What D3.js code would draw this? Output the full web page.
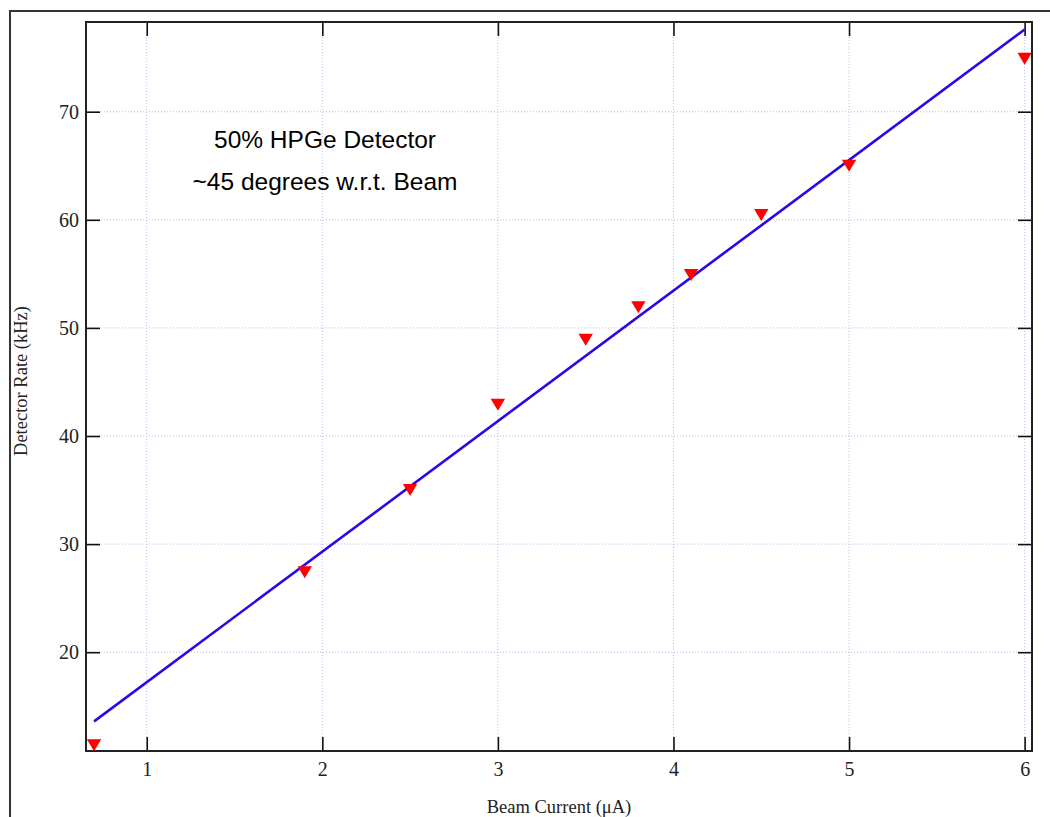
<!DOCTYPE html>
<html><head><meta charset="utf-8">
<script src="https://cdn.jsdelivr.net/npm/d3@7"></script>
<style>body{margin:0;background:#fff}svg{display:block}</style>
</head><body><svg id="c" width="1050" height="817"></svg>
<script>
const beamCurrent = [0.7, 1.9, 2.5, 3.0, 3.5, 3.8, 4.1, 4.5, 5.0, 6.0];
const detectorRate = [11.4, 27.4, 35.0, 42.9, 48.9, 51.9, 54.9, 60.45, 65.0, 74.9];
const fitX = [0.7, 6.0];
const fitY = [13.6, 77.6];
const xTicks = [1, 2, 3, 4, 5, 6];
const yTicks = [20, 30, 40, 50, 60, 70];
const annotation = ["50% HPGe Detector", "~45 degrees w.r.t. Beam"];

const svg = d3.select("#c");
const L = 86, R = 1032, T = 22, B = 751;
const x = d3.scaleLinear().domain([0.654, 6.042]).range([L, R]);
const y = d3.scaleLinear().domain([10.86, 78.3]).range([B, T]);

// outer frame
svg.append("path").attr("d", `M10,817 V11 H1050`).attr("fill","none").attr("stroke","#333").attr("stroke-width",2);

// grid
const g = svg.append("g");
g.selectAll(".gx").data(xTicks).join("line")
  .attr("x1", d=>x(d)).attr("x2", d=>x(d)).attr("y1", T).attr("y2", B)
  .attr("stroke","#b8b8f6").attr("stroke-width",1).attr("stroke-dasharray","1,2");
g.selectAll(".gy").data(yTicks).join("line")
  .attr("y1", d=>y(d)).attr("y2", d=>y(d)).attr("x1", L).attr("x2", R)
  .attr("stroke","#b8b8f6").attr("stroke-width",1).attr("stroke-dasharray","1,2");

// axes with inner ticks
const font = "'Liberation Serif', 'DejaVu Serif', serif";
const ax = svg.append("g").attr("transform",`translate(0,${B})`)
  .call(d3.axisBottom(x).tickValues(xTicks).tickSize(-14).tickPadding(11).tickFormat(d3.format("d")));
const axT = svg.append("g").attr("transform",`translate(0,${T})`)
  .call(d3.axisTop(x).tickValues(xTicks).tickSize(-14).tickFormat(""));
const ay = svg.append("g").attr("transform",`translate(${L},0)`)
  .call(d3.axisLeft(y).tickValues(yTicks).tickSize(-14).tickPadding(7).tickFormat(d3.format("d")));
const ayR = svg.append("g").attr("transform",`translate(${R},0)`)
  .call(d3.axisRight(y).tickValues(yTicks).tickSize(-14).tickFormat(""));
[ax, axT, ay, ayR].forEach(a => {
  a.attr("font-family", font).attr("font-size", 20);
  a.select(".domain").remove();
  a.selectAll(".tick line").attr("stroke","#111").attr("stroke-width",1.6);
  a.selectAll("text").attr("fill","#222");
});

// plot border
svg.append("rect").attr("x",L).attr("y",T).attr("width",R-L).attr("height",B-T)
  .attr("fill","none").attr("stroke","#222").attr("stroke-width",2);

// fit line
const pts = fitX.map((d,i)=>[x(d), y(fitY[i])]);
svg.append("path").attr("d", d3.line()(pts)).attr("stroke","#2a08e8").attr("stroke-width",2.6).attr("fill","none");

// markers (downward triangles)
const triPath = "M-7.2,-6 L7.2,-6 L0,6 Z";
svg.selectAll(".m").data(beamCurrent).join("path")
  .attr("d", triPath)
  .attr("transform", (d,i)=>`translate(${x(d)},${y(detectorRate[i])})`)
  .attr("fill","#ff0000");

// annotation
svg.selectAll(".ann").data(annotation).join("text")
  .attr("x", 325).attr("y", (d,i)=>148 + i*42)
  .attr("text-anchor","middle").attr("font-family","'Liberation Sans', Arial, sans-serif")
  .attr("font-size", 24.5).attr("fill","#000").text(d=>d);

// axis titles
svg.append("text").attr("x", 559).attr("y", 813).attr("text-anchor","middle")
  .attr("font-family", font).attr("font-size", 18.5).attr("fill","#222").text("Beam Current (μA)");
svg.append("text").attr("transform","translate(27,381) rotate(-90)").attr("text-anchor","middle")
  .attr("font-family", font).attr("font-size", 18.5).attr("fill","#222").text("Detector Rate (kHz)");
</script></body></html>
